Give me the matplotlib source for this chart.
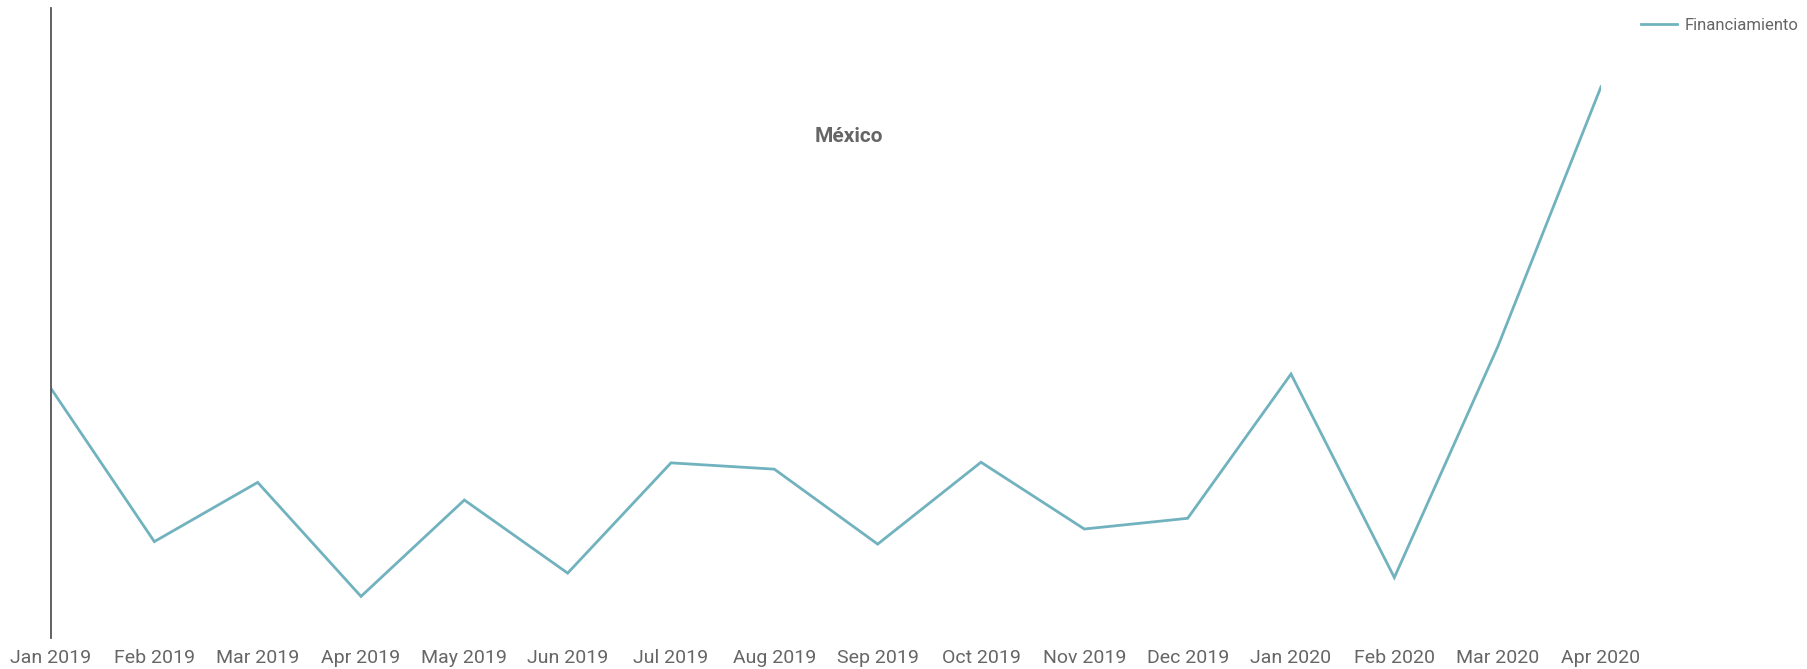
import matplotlib
matplotlib.use("Agg")
import matplotlib.pyplot as plt
import numpy as np

plt.rcParams['font.family'] = ['Roboto', 'DejaVu Sans']

# --- Monthly financing index, Mexico ---
months = ["Jan 2019", "Feb 2019", "Mar 2019", "Apr 2019", "May 2019", "Jun 2019",
          "Jul 2019", "Aug 2019", "Sep 2019", "Oct 2019", "Nov 2019", "Dec 2019",
          "Jan 2020", "Feb 2020", "Mar 2020", "Apr 2020"]
financiamiento = [39.6, 15.3, 24.7, 6.6, 21.9, 10.3, 27.8, 26.8,
                  14.9, 27.9, 17.3, 19.0, 41.9, 9.6, 46.2, 87.5]

line_color = "#71b2bf"
text_color = "#666666"

fig = plt.figure(figsize=(18.08, 6.69), dpi=100)
ax = fig.add_axes([51 / 1808, 31 / 669, 1550 / 1808, 630 / 669])

x = np.arange(len(months))
ax.plot(x, financiamiento, color=line_color, linewidth=2.0, label="Financiamiento",
        solid_joinstyle="miter")

ax.set_xlim(0, len(months) - 1)
ax.set_ylim(0, 100)

ax.set_xticks(x)
ax.set_xticklabels(months, fontsize=14, color=text_color)
ax.tick_params(axis="x", length=0, pad=8)
ax.set_yticks([])

for side in ["top", "right", "bottom"]:
    ax.spines[side].set_visible(False)
ax.spines["left"].set_color("#555555")
ax.spines["left"].set_linewidth(1.3)

# title sits inside the plot area
fig.text(849 / 1808, 1 - 137 / 669, "México", ha="center", va="center",
         fontsize=15, fontweight="bold", color=text_color)

fig.legend(loc="upper right", bbox_to_anchor=(1.0, 1 - 9 / 669), frameon=False,
           fontsize=12, labelcolor=text_color, handlelength=2.2,
           handletextpad=0.45, borderaxespad=0.15)

plt.savefig("out.png", dpi=100)
plt.close()
